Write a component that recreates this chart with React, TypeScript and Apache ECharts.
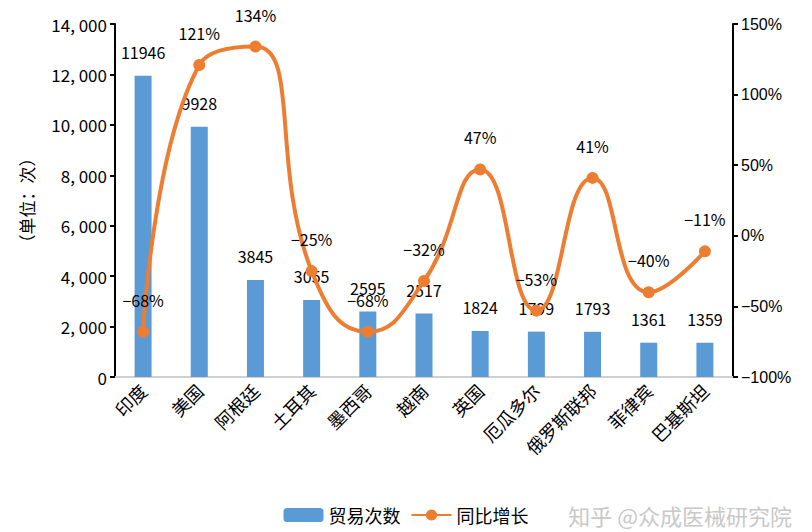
import React, { useEffect, useRef } from "react";
import * as echarts from "echarts";

const categories = ["印度", "美国", "阿根廷", "土耳其", "墨西哥", "越南", "英国", "厄瓜多尔", "俄罗斯联邦", "菲律宾", "巴基斯坦"];
const tradeCounts = [11946, 9928, 3845, 3055, 2595, 2517, 1824, 1799, 1793, 1361, 1359];
const yoyGrowth = [-68, 121, 134, -25, -68, -32, 47, -53, 41, -40, -11];

const FONT = "'Noto Sans CJK SC', 'Noto Sans', sans-serif";

function fmtThousands(v: number): string {
  if (v === 0) return "0";
  const s = String(v);
  return s.replace(/\B(?=(\d{3})+(?!\d))/g, ", ");
}
function fmtPct(v: number): string {
  return (v < 0 ? "−" + Math.abs(v) : String(v)) + "%";
}

export default function App() {
  const ref = useRef<HTMLDivElement>(null);
  useEffect(() => {
    if (!ref.current) return;
    const chart = echarts.init(ref.current, undefined, { renderer: "svg" });
    chart.setOption({
      animation: false,
      backgroundColor: "#ffffff",
      textStyle: { fontFamily: FONT },
      grid: { left: 115, right: 79, top: 24, bottom: 155, containLabel: false },
      legend: {
        bottom: 3,
        left: "center",
        itemWidth: 40,
        itemHeight: 14,
        itemGap: 10,
        textStyle: { fontSize: 18, color: "#000", fontFamily: FONT },
        data: ["贸易次数", "同比增长"],
      },
      xAxis: {
        type: "category",
        data: categories,
        axisLine: { lineStyle: { color: "#d0d0d0", width: 2 } },
        axisTick: { show: false },
        axisLabel: { rotate: 45, fontSize: 18, color: "#000", margin: 10, fontFamily: FONT },
      },
      yAxis: [
        {
          type: "value",
          min: 0,
          max: 14000,
          interval: 2000,
          name: "（单位：次）",
          nameLocation: "middle",
          nameGap: 80,
          nameRotate: 90,
          nameTextStyle: { fontSize: 17, color: "#000", fontFamily: FONT },
          axisLine: { show: true, lineStyle: { color: "#000", width: 2 } },
          axisTick: { show: true, length: 5, lineStyle: { color: "#000", width: 2 } },
          axisLabel: { fontSize: 17, color: "#000", formatter: (v: number) => fmtThousands(v), fontFamily: FONT },
          splitLine: { show: false },
        },
        {
          type: "value",
          min: -100,
          max: 150,
          interval: 50,
          position: "right",
          axisLine: { show: true, lineStyle: { color: "#000", width: 2 } },
          axisTick: { show: true, length: 5, lineStyle: { color: "#000", width: 2 } },
          axisLabel: { fontSize: 16, color: "#000", formatter: (v: number) => fmtPct(v), fontFamily: "'Liberation Sans', Arial, sans-serif" },
          splitLine: { show: false },
        },
      ],
      series: [
        {
          name: "贸易次数",
          type: "bar",
          data: tradeCounts,
          barWidth: 17,
          itemStyle: { color: "#5B9BD5" },
          label: { show: true, position: "top", distance: 16, fontSize: 16, color: "#000", fontFamily: FONT },
        },
        {
          name: "同比增长",
          type: "line",
          yAxisIndex: 1,
          data: yoyGrowth,
          smooth: 0.5,
          symbol: "circle",
          symbolSize: 12,
          lineStyle: { color: "#ED7D31", width: 4 },
          itemStyle: { color: "#ED7D31" },
          label: { show: true, position: "top", distance: 18, fontSize: 16, color: "#000", formatter: (p: any) => fmtPct(p.value), fontFamily: FONT },
          z: 3,
        },
      ],
      graphic: [
        {
          type: "text",
          right: 20,
          bottom: 6,
          style: { text: "知乎 @众成医械研究院", fontSize: 22, fill: "#c8c8c8", fontFamily: FONT },
        },
      ],
    });
    return () => chart.dispose();
  }, []);
  return <div ref={ref} style={{ width: 812, height: 532, position: "absolute", left: 0, top: 0 }} />;
}
